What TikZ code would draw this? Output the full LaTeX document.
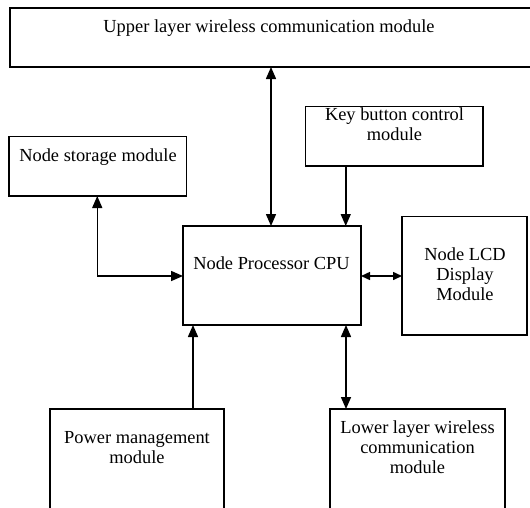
\documentclass[tikz,border=0pt]{standalone}
\usepackage{fontspec}
\setmainfont{Liberation Serif}
\usetikzlibrary{arrows.meta}

\tikzset{
  box/.style={draw, line width=1.1pt, inner sep=0pt, outer sep=0pt, anchor=north west},
  lbl/.style={font=\fontsize{18.4}{20}\selectfont, align=center, inner sep=0pt, anchor=base},
  link/.style={line width=1.5pt, -{Triangle[length=12pt,width=10pt]}},
  dlink/.style={line width=1.5pt, {Triangle[length=12pt,width=10pt]}-{Triangle[length=12pt,width=10pt]}},
  slink/.style={line width=1.5pt, {Triangle[length=9pt,width=8pt]}-{Triangle[length=9pt,width=8pt]}}
}

\begin{document}
\begin{tikzpicture}[x=1pt,y=-1pt]
  \useasboundingbox (0,0) rectangle (530,507);
  \fill[white] (0,0) rectangle (530,507);
  \clip (0,0) rectangle (530,507);

  % module boxes
  \node[box, minimum width=540pt, minimum height=59pt] (upper) at (10,8) {};
  \node[box, minimum width=177.5pt, minimum height=59.5pt] (store) at (9,136.5) {};
  \node[box, minimum width=177.5pt, minimum height=59.5pt] (key) at (305.5,106.5) {};
  \node[box, minimum width=178pt, minimum height=99pt] (cpu) at (183,226) {};
  \node[box, minimum width=125pt, minimum height=118.5pt] (lcd) at (402,216.5) {};
  \node[box, minimum width=174pt, minimum height=120pt] (power) at (50,409) {};
  \node[box, minimum width=175pt, minimum height=120pt] (lower) at (330,409) {};

  % labels (base = baseline of the last line)
  \node[lbl] (t-upper) at (269,32) {Upper layer wireless communication module};
  \node[lbl] (t-store) at (98,161.5) {Node storage module};
  \node[lbl] (t-key) at (394.5,140.5) {Key button control\\module};
  \node[lbl] (t-cpu) at (271.5,269.5) {Node Processor CPU};
  \node[lbl] (t-lcd) at (465,300.5) {Node LCD\\Display\\Module};
  \node[lbl] (t-power) at (137,463) {Power management\\module};
  \node[lbl] (t-lower) at (417.5,473) {Lower layer wireless\\communication\\module};

  % connectors
  \draw[dlink] ([xshift=-1pt]cpu.north) -- ([xshift=-1pt]cpu.north |- upper.south);
  \draw[link] ([xshift=-48.5pt]key.south) -- ([xshift=-48.5pt]key.south |- cpu.north);
  \draw[dlink] ([xshift=-0.5pt]store.south) |- ([yshift=-50pt]cpu.north west);
  \draw[slink] ([yshift=-50pt]cpu.north east) -- ([yshift=-50pt]cpu.north east -| lcd.west);
  \draw[link] ([xshift=10pt]cpu.south west |- power.north) -- ([xshift=10pt]cpu.south west);
  \draw[dlink] ([xshift=-15pt]cpu.south east) -- ([xshift=-15pt]cpu.south east |- lower.north);
\end{tikzpicture}
\end{document}
